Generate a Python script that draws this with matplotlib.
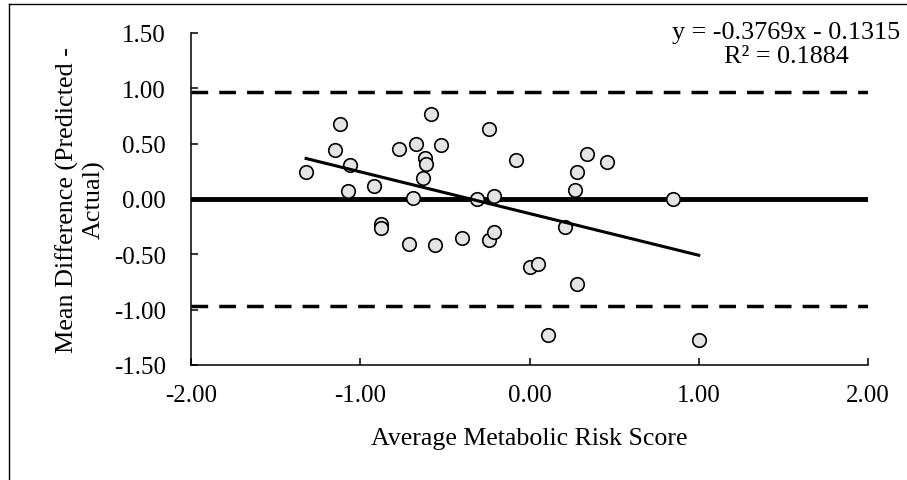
import numpy as np
import matplotlib.pyplot as plt
from matplotlib.lines import Line2D
from matplotlib.ticker import FormatStrFormatter

plt.rcParams['font.family'] = ['Liberation Serif', 'DejaVu Serif']
plt.rcParams['axes.unicode_minus'] = False

# average score vs. difference (predicted - actual)
avg_score = [-1.32, -1.12, -1.15, -1.06, -1.07, -0.92, -0.88, -0.88, -0.77, -0.71,
             -0.69, -0.67, -0.62, -0.61, -0.63, -0.58, -0.56, -0.52, -0.40, -0.31,
             -0.24, -0.24, -0.21, -0.21, -0.08, 0.00, 0.05, 0.34, 0.46, 0.28,
             0.27, 0.85, 0.21, 0.28, 0.11, 1.00]
mean_diff = [0.24, 0.68, 0.44, 0.31, 0.07, 0.12, -0.23, -0.26, 0.45, -0.41,
             0.01, 0.50, 0.37, 0.32, 0.19, 0.77, -0.42, 0.49, -0.35, 0.00,
             0.63, -0.37, -0.30, 0.03, 0.35, -0.61, -0.59, 0.41, 0.33, 0.24,
             0.08, 0.00, -0.25, -0.77, -1.23, -1.27]

bias = 0.0
loa = 0.97          # limits of agreement (+/-)
slope = -0.3769
intercept = -0.1315
r2 = 0.1884

fig = plt.figure(figsize=(9.07, 4.81), dpi=100)
ax = fig.add_axes([191/907, 1 - 366/481, (868 - 191)/907, (366 - 34)/481])

xlim = [-2, 2]
ax.plot(xlim, [bias, bias], 'k-', lw=3.5, solid_capstyle='round', zorder=2)
ax.plot(xlim, [loa, loa], 'k--', lw=2.5, dashes=(4.8, 3.2), zorder=2)
ax.plot(xlim, [-loa, -loa], 'k--', lw=2.5, dashes=(4.8, 3.2), zorder=2)

ax.scatter(avg_score, mean_diff, s=95, facecolor='#e4e4e4', edgecolor='black',
           linewidths=1.2, zorder=3)

xs = np.array([min(avg_score), max(avg_score)])
ax.plot(xs, slope*xs + intercept, 'k-', lw=2.2, zorder=4)

ax.set_xlim(-2, 2)
ax.set_ylim(-1.5, 1.5)
ax.set_xticks([-2, -1, 0, 1, 2])
ax.set_yticks([-1.5, -1.0, -0.5, 0.0, 0.5, 1.0, 1.5])
ax.xaxis.set_major_formatter(FormatStrFormatter('%.2f'))
ax.yaxis.set_major_formatter(FormatStrFormatter('%.2f'))
ax.tick_params(direction='in', length=5, width=1.1, labelsize=18)
ax.tick_params(axis='y', pad=18)
ax.tick_params(axis='x', pad=14)
for s in ['top', 'right']:
    ax.spines[s].set_visible(False)
for s in ['left', 'bottom']:
    ax.spines[s].set_linewidth(1.1)

ax.set_xlabel('Average Metabolic Risk Score', fontsize=18.6, labelpad=15)
ax.set_ylabel('Mean Difference (Predicted -\nActual)', fontsize=18.8, labelpad=6)

fig.text(786/907, 1 - 22/481,
         'y = %.4fx - %.4f\nR² = %.4f' % (slope, abs(intercept), r2),
         ha='center', va='top', multialignment='center', fontsize=18.8,
         linespacing=1.12)

# outer chart border (left and top visible)
fig.add_artist(Line2D([9/907, 9/907], [0, 1 - 5/481], color='black', lw=1.0,
                      transform=fig.transFigure))
fig.add_artist(Line2D([9/907, 1], [1 - 5/481, 1 - 5/481], color='black', lw=1.0,
                      transform=fig.transFigure))

fig.savefig('out.png', dpi=100)
